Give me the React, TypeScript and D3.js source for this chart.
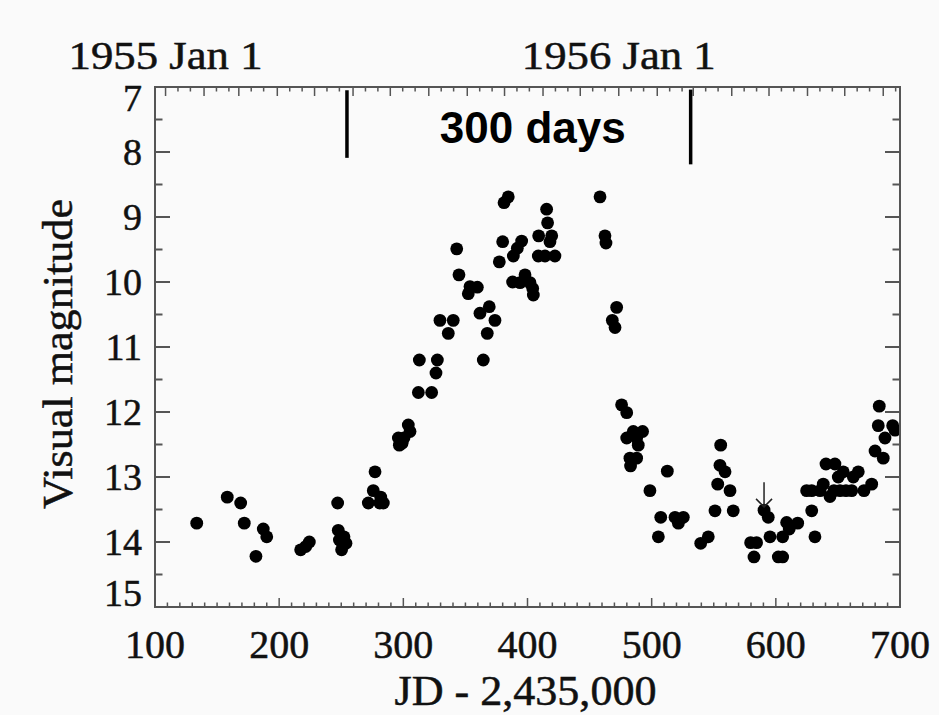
import React from "react";
import * as d3 from "d3";

const JD = [
  133.6, 158.2, 169.0, 171.9, 181.3, 187.2, 190.0, 217.3, 221.4, 224.3,
  247.1, 247.6, 248.5, 250.3, 252.2, 253.8, 271.8, 275.8, 277.2, 281.0,
  281.8, 283.9, 296.0, 296.8, 299.0, 300.5, 304.0, 305.4, 312.1, 312.9,
  322.8, 326.3, 327.4, 329.5, 336.2, 340.2, 343.0, 344.8, 352.3, 353.7,
  359.6, 361.7, 364.4, 367.6, 369.2, 373.8, 377.3, 380.0, 381.1, 384.5,
  388.0, 388.6, 391.8, 394.0, 395.3, 398.0, 402.0, 404.2, 404.7, 408.7,
  409.0, 414.1, 415.4, 416.2, 418.1, 419.5, 422.1, 458.4, 462.4, 463.2,
  468.3, 470.5, 471.8, 475.8, 479.9, 479.9, 482.5, 483.0, 485.2, 487.9,
  487.9, 489.2, 492.7, 498.6, 505.4, 507.3, 512.6, 518.8, 521.5, 525.5,
  539.5, 545.6, 551.0, 553.2, 555.0, 555.6, 559.1, 563.1, 565.7, 579.7,
  582.4, 584.5, 590.5, 593.9, 595.3, 602.0, 605.5, 605.5, 608.7, 610.8,
  617.6, 624.8, 628.9, 628.9, 631.5, 635.6, 638.2, 640.4, 643.6, 646.8,
  647.6, 650.3, 651.7, 654.3, 656.5, 661.1, 662.4, 666.4, 671.0, 677.2,
  679.9, 682.5, 683.3, 686.5, 687.9, 694.1, 696.0,
];
const MAG = [
  13.71, 13.31, 13.40, 13.71, 14.22, 13.80, 13.92, 14.12, 14.07, 14.00,
  13.40, 13.82, 13.97, 14.12, 13.92, 14.02, 13.40, 13.21, 12.92, 13.40,
  13.31, 13.40, 12.40, 12.51, 12.48, 12.40, 12.20, 12.30, 11.70, 11.20,
  11.70, 11.40, 11.20, 10.59, 10.79, 10.59, 9.49, 9.89, 10.18, 10.07,
  10.08, 10.48, 11.20, 10.79, 10.38, 10.59, 9.69, 9.38, 8.78, 8.69,
  10.00, 9.60, 9.48, 10.01, 9.37, 9.89, 10.01, 10.10, 10.20, 9.60,
  9.29, 9.60, 8.88, 9.09, 9.38, 9.29, 9.60, 8.69, 9.29, 9.40,
  10.59, 10.70, 10.39, 11.89, 12.01, 12.40, 12.71, 12.83, 12.30, 12.40,
  12.71, 12.51, 12.30, 13.21, 13.92, 13.62, 12.91, 13.62, 13.71, 13.62,
  14.02, 13.92, 13.52, 13.11, 12.82, 12.51, 12.92, 13.21, 13.52, 14.01,
  14.23, 14.01, 13.51, 13.62, 13.92, 14.23, 14.23, 13.92, 13.70, 13.80,
  13.71, 13.21, 13.21, 13.52, 13.92, 13.21, 13.11, 12.80, 13.30, 13.21,
  12.80, 13.00, 13.21, 12.92, 13.21, 13.21, 13.00, 12.92, 13.21, 13.11,
  12.60, 12.21, 11.91, 12.71, 12.40, 12.21, 12.28,
];

const X_TICKS = [100, 200, 300, 400, 500, 600, 700];
const Y_TICKS = [7, 8, 9, 10, 11, 12, 13, 14, 15];
const TOP_LABELS = ["1955 Jan 1", "1956 Jan 1"];
const TOP_LABEL_DATES = [Date.UTC(1955, 0, 1), Date.UTC(1956, 0, 1)];
const JD_1955 = 108.5; // 1955 Jan 1 0h = JD 2435108.5
const BRACKET = [254.6, 531.4];
const BRACKET_TEXT = "300 days";
const ARROW_JD = 590.5;
const ARROW_MAG = [13.08, 13.46];
const X_TITLE = "JD - 2,435,000";
const Y_TITLE = "Visual magnitude";

const toJD = (t: number) => (t - Date.UTC(1955, 0, 1)) / 86400000 + JD_1955;

export default function App() {
  const W = 939, H = 715;
  const x = d3.scaleLinear().domain([100, 700]).range([155, 900]);
  const y = d3.scaleLinear().domain([7, 15]).range([87, 607]);
  const [x0, x1] = x.range();
  const [y0, y1] = y.range();
  const axisColor = "#555";
  const serif = "'Liberation Serif', 'DejaVu Serif', serif";
  const textStroke = { stroke: "#111", strokeWidth: 0.5 };

  const xMinor = d3.range(100, 701, 10);
  const yMinor = d3.range(7, 15.01, 0.5);

  // top calendar ticks
  const months: { jd: number; major: boolean }[] = [];
  for (let yr = 1954; yr <= 1957; yr++) {
    for (let m = 0; m < 12; m++) {
      [1, 11, 21].forEach((d) => {
        const jd = toJD(Date.UTC(yr, m, d));
        if (jd >= 100 && jd <= 700) months.push({ jd, major: d === 1 });
      });
    }
  }

  const yLabelBase = (v: number) => {
    if (v === 7) return y(v) + 24;
    if (v === 15) return y(v) - 1;
    return y(v) + 13;
  };

  return (
    <svg
      width={W}
      height={H}
      style={{ position: "absolute", left: 0, top: 0, background: "#fafafa" }}
    >
      <rect x={0} y={0} width={W} height={H} fill="#fafafa" />
      <defs>
        <clipPath id="plotclip">
          <rect x={x0} y={y0} width={x1 - x0} height={y1 - y0} />
        </clipPath>
      </defs>

      {/* data */}
      <g clipPath="url(#plotclip)">
        {JD.map((d, i) => (
          <circle key={i} cx={x(d)} cy={y(MAG[i])} r={6.4} fill="#000" />
        ))}
      </g>

      {/* frame */}
      <rect x={x0} y={y0} width={x1 - x0} height={y1 - y0} fill="none" stroke={axisColor} strokeWidth={2} />

      {/* bottom ticks */}
      {xMinor.map((v) => {
        const major = v % 100 === 0;
        return (
          <line key={"bx" + v} x1={x(v)} x2={x(v)} y1={y1} y2={y1 - (major ? 9 : 4.5)} stroke={axisColor} strokeWidth={1.5} />
        );
      })}
      {/* top calendar ticks */}
      {months.map((m, i) => (
        <line key={"tx" + i} x1={x(m.jd)} x2={x(m.jd)} y1={y0} y2={y0 + (m.major ? 9 : 4.5)} stroke={axisColor} strokeWidth={1.5} />
      ))}
      {/* left / right ticks */}
      {yMinor.map((v) => {
        const major = Math.abs(v - Math.round(v)) < 1e-6;
        const len = major ? 15 : 7.5;
        return (
          <g key={"y" + v}>
            <line x1={x0} x2={x0 + len} y1={y(v)} y2={y(v)} stroke={axisColor} strokeWidth={2} />
            <line x1={x1} x2={x1 - len} y1={y(v)} y2={y(v)} stroke={axisColor} strokeWidth={2} />
          </g>
        );
      })}

      {/* tick labels */}
      {X_TICKS.map((v) => (
        <text key={"xl" + v} x={x(v)} y={658} textAnchor="middle" fontFamily={serif} fontSize={40} fill="#111" {...textStroke}>
          {v}
        </text>
      ))}
      {Y_TICKS.map((v) => (
        <text key={"yl" + v} x={142} y={yLabelBase(v)} textAnchor="end" fontFamily={serif} fontSize={38} fill="#111" {...textStroke}>
          {v}
        </text>
      ))}
      {TOP_LABELS.map((t, i) => (
        <text
          key={"tl" + i}
          x={x(toJD(TOP_LABEL_DATES[i]))}
          y={69}
          textAnchor="middle"
          fontFamily={serif}
          fontSize={39}
          fill="#111"
          textLength={194}
          lengthAdjust="spacingAndGlyphs"
          {...textStroke}
        >
          {t}
        </text>
      ))}

      {/* titles */}
      <text
        x={(x0 + x1) / 2 - 2}
        y={705}
        textAnchor="middle"
        fontFamily={serif}
        fontSize={42}
        fill="#111"
        textLength={262}
        lengthAdjust="spacingAndGlyphs"
        {...textStroke}
      >
        {X_TITLE}
      </text>
      <text
        transform={`translate(72, ${(y0 + y1) / 2 + 7}) rotate(-90)`}
        textAnchor="middle"
        fontFamily={serif}
        fontSize={43}
        fill="#111"
        textLength={310}
        lengthAdjust="spacingAndGlyphs"
        {...textStroke}
      >
        {Y_TITLE}
      </text>

      {/* 300 days bracket */}
      <line x1={x(BRACKET[0])} x2={x(BRACKET[0])} y1={y(7.05)} y2={y(8.09)} stroke="#000" strokeWidth={3.5} />
      <line x1={x(BRACKET[1])} x2={x(BRACKET[1])} y1={y(7.04)} y2={y(8.19)} stroke="#000" strokeWidth={3.5} />
      <text
        x={(x(BRACKET[0]) + x(BRACKET[1])) / 2 + 14}
        y={y(7.86)}
        textAnchor="middle"
        fontFamily="'Liberation Sans', Arial, sans-serif"
        fontWeight="bold"
        fontSize={44}
        fill="#000"
      >
        {BRACKET_TEXT}
      </text>

      {/* arrow */}
      <line x1={x(ARROW_JD)} x2={x(ARROW_JD)} y1={y(ARROW_MAG[0])} y2={y(ARROW_MAG[1])} stroke="#222" strokeWidth={1.5} />
      <path
        d={`M${x(ARROW_JD) - 8},${y(ARROW_MAG[1]) - 8} L${x(ARROW_JD)},${y(ARROW_MAG[1])} L${x(ARROW_JD) + 8},${y(ARROW_MAG[1]) - 8}`}
        fill="none"
        stroke="#222"
        strokeWidth={1.5}
      />
    </svg>
  );
}
